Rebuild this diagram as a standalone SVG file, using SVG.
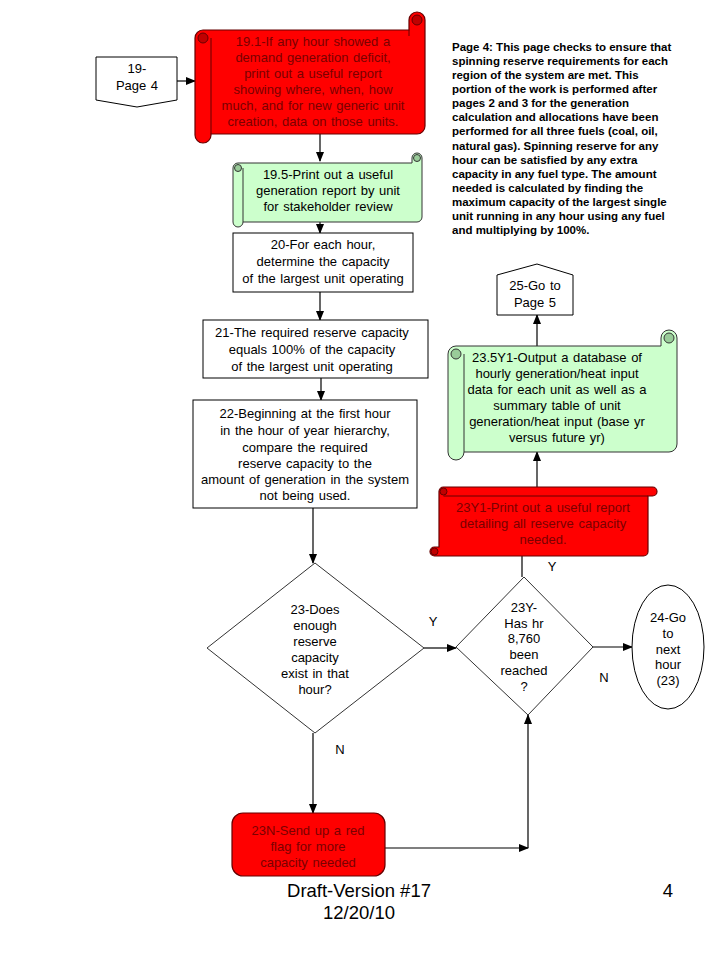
<svg xmlns="http://www.w3.org/2000/svg" width="720" height="960" viewBox="0 0 720 960">
<defs>
<marker id="ah" markerWidth="10" markerHeight="8" refX="9" refY="4" orient="auto" markerUnits="userSpaceOnUse">
<path d="M0,0 L10,4 L0,8 Z" fill="#000"/>
</marker>
<style>
text{font-family:"Liberation Sans",Arial,sans-serif;font-size:13px;fill:#000;text-anchor:middle;word-spacing:1px}
.rt{fill:#7a0000}
.note{font-size:11.5px;font-weight:bold;text-anchor:start;word-spacing:0}
.foot{font-size:18.5px;word-spacing:0}
.box{fill:#fff;stroke:#000;stroke-width:1}
.dia{fill:#fff;stroke:#333;stroke-width:1}
.red{fill:#ff0000;stroke:#600;stroke-width:1.2}
.redd{fill:#c00000;stroke:#600;stroke-width:1}
.grn{fill:#ccffcc;stroke:#333;stroke-width:1}
.grnd{fill:#99cc99;stroke:#333;stroke-width:1}
.ln{fill:none;stroke:#000;stroke-width:1.2}
.det{fill:none;stroke:#600;stroke-width:1}
.detg{fill:none;stroke:#333;stroke-width:1}
</style>
</defs>
<rect width="720" height="960" fill="#fff"/>

<g id="connectors">
<path class="ln" d="M177,81 L195,81" marker-end="url(#ah)"/>
<path class="ln" d="M320,134 L320,161" marker-end="url(#ah)"/>
<path class="ln" d="M320,221 L320,233" marker-end="url(#ah)"/>
<path class="ln" d="M320,292 L320,320" marker-end="url(#ah)"/>
<path class="ln" d="M321,378 L321,400" marker-end="url(#ah)"/>
<path class="ln" d="M313,508 L313,563" marker-end="url(#ah)"/>
<path class="ln" d="M313,733 L313,813" marker-end="url(#ah)"/>
<path class="ln" d="M385,848 L528,848" marker-end="url(#ah)"/>
<path class="ln" d="M528,848 L528,715" marker-end="url(#ah)"/>
<path class="ln" d="M424,648 L456,648" marker-end="url(#ah)"/>
<path class="ln" d="M593,647 L632,647" marker-end="url(#ah)"/>
<path class="ln" d="M522,577 L522,556"/>
<path class="ln" d="M537,495 L537,452" marker-end="url(#ah)"/>
<path class="ln" d="M537,346 L537,315" marker-end="url(#ah)"/>
<text x="433" y="626">Y</text>
<text x="340" y="754">N</text>
<text x="552" y="571">Y</text>
<text x="604" y="682">N</text>
</g>

<g id="n19">
<path class="box" d="M96,57 L177,57 L177,100 L137,107 L96,100 Z"/>
<text x="137" y="73">19-</text>
<text x="137" y="90">Page 4</text>
</g>

<g id="n19_1">
<path class="red" d="M203,30 L409,30 L409,20 A8,8 0 0 1 425,20 L425,126 A8,8 0 0 1 417,134 L211,134 L211,135 A8,8 0 0 1 195,135 L195,38 A8,8 0 0 1 203,30 Z"/>
<path class="det" d="M211,38 L211,134"/>
<circle class="redd" cx="203" cy="38" r="5"/>
<circle class="redd" cx="417" cy="20" r="5"/>
<path class="det" d="M409,30 L409,36"/>
<text class="rt" x="313" y="46">19.1-If any hour showed a</text>
<text class="rt" x="313" y="62">demand generation deficit,</text>
<text class="rt" x="313" y="78">print out a useful report</text>
<text class="rt" x="313" y="94">showing where, when, how</text>
<text class="rt" x="313" y="110">much, and for new generic unit</text>
<text class="rt" x="313" y="126">creation, data on those units.</text>
</g>

<g id="n19_5">
<path class="grn" d="M238,163 L412,163 L412,158 A5,5 0 0 1 422,158 L422,217 A5,5 0 0 1 417,222 L243,222 L243,222 A5,5 0 0 1 233,222 L233,168 A5,5 0 0 1 238,163 Z"/>
<path class="detg" d="M243,168 L243,222"/>
<circle class="grnd" cx="238" cy="168" r="3.5"/>
<circle class="grnd" cx="417" cy="158" r="3.5"/>
<text x="328" y="179">19.5-Print out a useful</text>
<text x="328" y="195">generation report by unit</text>
<text x="328" y="211">for stakeholder review</text>
</g>

<g id="n20">
<rect class="box" x="233" y="233" width="180" height="59"/>
<text x="323" y="249">20-For each hour,</text>
<text x="323" y="266">determine the capacity</text>
<text x="323" y="283">of the largest unit operating</text>
</g>

<g id="n21">
<rect class="box" x="203" y="320" width="225" height="58"/>
<text x="312" y="337">21-The required reserve capacity</text>
<text x="312" y="354">equals 100% of the capacity</text>
<text x="312" y="371">of the largest unit operating</text>
</g>

<g id="n22">
<rect class="box" x="193" y="400" width="224" height="108"/>
<text x="305" y="418">22-Beginning at the first hour</text>
<text x="305" y="435">in the hour of year hierarchy,</text>
<text x="305" y="452">compare the required</text>
<text x="305" y="468">reserve capacity to the</text>
<text x="305" y="484">amount of generation in the system</text>
<text x="305" y="500">not being used.</text>
</g>

<g id="n23">
<path class="dia" d="M315,563 L424,648 L315,733 L207,648 Z"/>
<text x="315" y="614">23-Does</text>
<text x="315" y="630">enough</text>
<text x="315" y="646">reserve</text>
<text x="315" y="662">capacity</text>
<text x="315" y="678">exist in that</text>
<text x="315" y="694">hour?</text>
</g>

<g id="n23N">
<rect class="red" x="232" y="813" width="153" height="63" rx="11"/>
<text class="rt" x="308" y="835">23N-Send up a red</text>
<text class="rt" x="308" y="851">flag for more</text>
<text class="rt" x="308" y="867">capacity needed</text>
</g>

<g id="n23Y">
<path class="dia" d="M524,577 L593,647 L528,715 L456,647 Z"/>
<text x="524" y="612">23Y-</text>
<text x="524" y="628">Has hr</text>
<text x="524" y="643">8,760</text>
<text x="524" y="659">been</text>
<text x="524" y="675">reached</text>
<text x="524" y="691">?</text>
</g>

<g id="n24">
<ellipse class="box" cx="668" cy="647" rx="36" ry="62"/>
<text x="668" y="622">24-Go</text>
<text x="668" y="638">to</text>
<text x="668" y="654">next</text>
<text x="668" y="669">hour</text>
<text x="668" y="685">(23)</text>
</g>

<g id="n23Y1">
<path class="red" d="M443.5,487 L652.5,487 A4.5,4.5 0 0 1 652.5,496 L648,496 L648,551.5 A4.5,4.5 0 0 1 643.5,556 L434.5,556 A4.5,4.5 0 0 1 434.5,547 L439,547 L439,491.5 A4.5,4.5 0 0 1 443.5,487 Z"/>
<path class="det" d="M443.5,496 L648,496"/>
<circle class="redd" cx="443.5" cy="491.5" r="3.5"/>
<circle class="redd" cx="434.5" cy="551.5" r="3.5"/>
<text class="rt" x="543" y="512">23Y1-Print out a useful report</text>
<text class="rt" x="543" y="528">detailing all reserve capacity</text>
<text class="rt" x="543" y="544">needed.</text>
</g>

<g id="n23_5Y1">
<path class="grn" d="M456,346 L661,346 L661,338 A8,8 0 0 1 677,338 L677,444 A8,8 0 0 1 669,452 L464,452 L464,452 A8,8 0 0 1 448,452 L448,354 A8,8 0 0 1 456,346 Z"/>
<path class="detg" d="M464,354 L464,452"/>
<circle class="grnd" cx="456" cy="354" r="5"/>
<circle class="grnd" cx="669" cy="338" r="5"/>
<text x="557" y="362">23.5Y1-Output a database of</text>
<text x="557" y="378">hourly generation/heat input</text>
<text x="557" y="394">data for each unit as well as a</text>
<text x="557" y="410">summary table of unit</text>
<text x="557" y="426">generation/heat input (base yr</text>
<text x="557" y="442">versus future yr)</text>
</g>

<g id="n25">
<path class="box" d="M537,264 L573,275 L573,315 L497,315 L497,275 Z"/>
<text x="535" y="290">25-Go to</text>
<text x="535" y="307">Page 5</text>
</g>

<g id="note">
<text class="note" x="452" y="51">Page 4:  This page checks to ensure that</text>
<text class="note" x="452" y="65">spinning reserve requirements for each</text>
<text class="note" x="452" y="79">region of the system are met.  This</text>
<text class="note" x="452" y="93">portion of the work is performed after</text>
<text class="note" x="452" y="107">pages 2 and 3 for the generation</text>
<text class="note" x="452" y="121">calculation and allocations have been</text>
<text class="note" x="452" y="135">performed for all three fuels (coal, oil,</text>
<text class="note" x="452" y="150">natural gas).  Spinning reserve for any</text>
<text class="note" x="452" y="164">hour can be satisfied by any extra</text>
<text class="note" x="452" y="178">capacity in any fuel type. The amount</text>
<text class="note" x="452" y="192">needed is calculated by finding the</text>
<text class="note" x="452" y="206">maximum capacity of the largest single</text>
<text class="note" x="452" y="220">unit running in any hour using any fuel</text>
<text class="note" x="452" y="234">and multiplying by 100%.</text>
</g>

<g id="footer">
<text class="foot" x="359" y="897">Draft-Version #17</text>
<text class="foot" x="359" y="919">12/20/10</text>
<text class="foot" x="668" y="897">4</text>
</g>
</svg>
